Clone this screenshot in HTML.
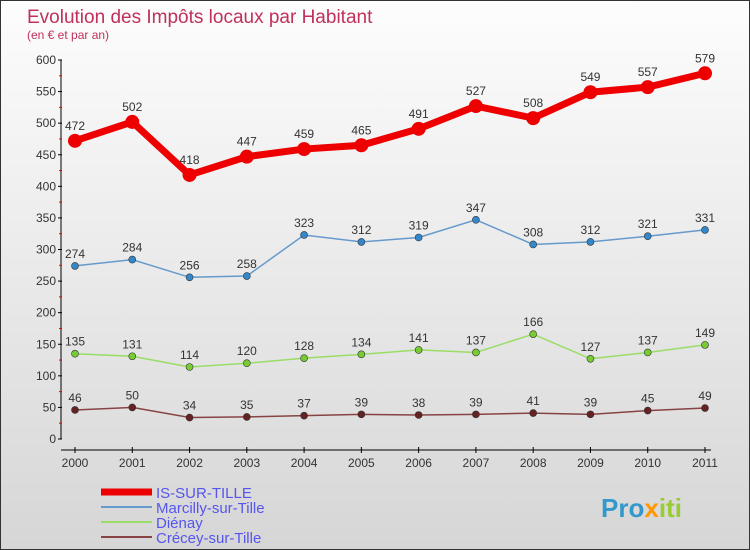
<!DOCTYPE html>
<html><head><meta charset="utf-8"><style>
body{margin:0}
#c{position:relative;width:748px;height:548px;border:1px solid #333;background:linear-gradient(#fdfdfd,#d6d6d6);overflow:hidden;font-family:"Liberation Sans",sans-serif}
</style></head><body>
<div id="c">
<svg id="s" width="748" height="548" style="position:absolute;left:0;top:0">
<text x="26" y="22" font-size="19" fill="#c0305a">Evolution des Impôts locaux par Habitant</text>
<text x="26" y="38" font-size="12" fill="#c0305a">(en € et par an)</text>
<g id="axes"></g><g id="series"></g>
<text x="600" y="516" font-size="26" font-weight="bold" fill="#3399cc"><tspan fill="#3399cc">Pro</tspan><tspan fill="#ff9900">x</tspan><tspan fill="#99cc33">iti</tspan></text>
</svg>
</div>
<script>
const years=[2000,2001,2002,2003,2004,2005,2006,2007,2008,2009,2010,2011];
const yTicks=[0,50,100,150,200,250,300,350,400,450,500,550,600];
const isSurTille=[472,502,418,447,459,465,491,527,508,549,557,579];
const marcilly=[274,284,256,258,323,312,319,347,308,312,321,331];
const dienay=[135,131,114,120,128,134,141,137,166,127,137,149];
const crecey=[46,50,34,35,37,39,38,39,41,39,45,49];
const names=["IS-SUR-TILLE","Marcilly-sur-Tille","Diénay","Crécey-sur-Tille"];
const NS="http://www.w3.org/2000/svg";
const X=i=>74+i*(630/11);
const Y=v=>438-v*(379/600);
function mk(t,a,p){const e=document.createElementNS(NS,t);for(const k in a)e.setAttribute(k,a[k]);p.appendChild(e);return e;}
const ax=document.getElementById('axes');
let l=mk('line',{x1:60,y1:Y(600),x2:60,y2:Y(0),stroke:'#000'},ax);


l=mk('line',{x1:60,y1:449,x2:710,y2:449,stroke:'#000'},ax);


yTicks.forEach((v,i)=>{
 mk('line',{x1:57,x2:61,y1:Y(v),y2:Y(v),stroke:'#000'},ax);
 if(i<yTicks.length-1)mk('line',{x1:58,x2:61,y1:Y(v+25),y2:Y(v+25),stroke:'#e00'},ax);
 const t=mk('text',{x:55,y:Y(v)+4,'text-anchor':'end','font-size':12,fill:'#333'},ax);
 t.textContent=v;
 
 
});
years.forEach((y,i)=>{
 mk('line',{x1:X(i),x2:X(i),y1:446,y2:452,stroke:'#000'},ax);
 const t=mk('text',{x:X(i),y:466,'text-anchor':'middle','font-size':12,fill:'#333'},ax);
 t.textContent=y;
 
 
});
const sg=document.getElementById('series');
const cfg=[[isSurTille,'#ee0000','#ee0000',7,7],[marcilly,'#6699cc','#3388cc',1.5,3.5],[dienay,'#99dd66','#77cc33',1.5,3.5],[crecey,'#884444','#662222',1.5,3.5]];
cfg.forEach((c,si)=>{
 const d=c[0];
 const g=mk('g',{},sg);
 
 
 const p=mk('polyline',{points:d.map((v,i)=>X(i)+','+Y(v)).join(' '),fill:'none',stroke:c[1],'stroke-width':c[3]},g);
 
 
 d.forEach((v,i)=>{
  const ci=mk('circle',{cx:X(i),cy:Y(v),r:c[4],fill:c[2],stroke:si?'#333':'none','stroke-width':0.6},g);
  
  
  const t=mk('text',{x:X(i),y:Y(v)-(si?8:11),'text-anchor':'middle','font-size':12,fill:'#333'},g);
  t.textContent=v;
  
  
 });
});
const lg=mk('g',{},sg);


cfg.forEach((c,i)=>{
 const y=491+i*15;
 mk('line',{x1:100,x2:151,y1:y,y2:y,stroke:c[1],'stroke-width':i?2:7},lg);
 const t=mk('text',{x:155,y:y+6,'font-size':15,fill:'#5555ee'},lg);
 t.textContent=names[i];
 
 
});
</script>
</body></html>
